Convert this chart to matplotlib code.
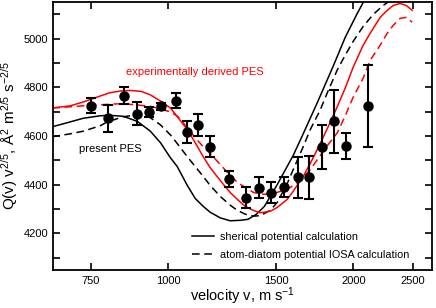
import numpy as np
import matplotlib
matplotlib.use("Agg")
import matplotlib.pyplot as plt
from matplotlib.ticker import FixedLocator, NullLocator, MultipleLocator, FixedFormatter
from matplotlib.lines import Line2D

plt.rcParams['font.family'] = ['Liberation Sans', 'DejaVu Sans']
plt.rcParams['mathtext.fontset'] = 'custom'
plt.rcParams['mathtext.rm'] = 'Liberation Sans'
plt.rcParams['mathtext.it'] = 'Liberation Sans'

# measured points
v_exp = [750, 800, 847, 891, 932, 973, 1030, 1075, 1117, 1168, 1254, 1340,
         1403, 1470, 1545, 1629, 1694, 1778, 1857, 1947, 2109]
q_exp = [4725, 4672, 4766, 4692, 4698, 4722, 4745, 4616, 4646, 4556, 4422, 4347,
         4388, 4367, 4390, 4431, 4431, 4555, 4660, 4558, 4724]
q_err = [30, 54, 34, 46, 20, 15, 30, 46, 46, 43, 33, 44,
         43, 43, 42, 84, 88, 90, 129, 54, 169]

# present PES, spherical potential
v_sph = [649, 694, 729, 776, 803, 846, 892, 936, 972, 1009, 1035, 1075, 1107, 1141,
         1171, 1216, 1262, 1311, 1349, 1392, 1434, 1466, 1505, 1539, 1597, 1658,
         1747, 1855, 1940, 2029, 2083, 2120]
q_sph = [4638, 4658, 4673, 4683, 4685, 4681, 4660, 4620, 4573, 4511, 4475, 4397, 4344, 4311,
         4287, 4264, 4252, 4254, 4258, 4279, 4311, 4352, 4401, 4446, 4520, 4609,
         4736, 4887, 5005, 5103, 5156, 5200]

# present PES, IOSA
v_iosa = [649, 694, 729, 776, 797, 846, 892, 919, 936, 972, 1009, 1039, 1075, 1107, 1141,
          1171, 1216, 1262, 1296, 1335, 1375, 1412, 1466, 1505, 1562, 1597, 1658, 1702,
          1767, 1814, 1883, 1940, 1999, 2075, 2154, 2236, 2296]
q_iosa = [4597, 4609, 4620, 4642, 4658, 4679, 4687, 4683, 4675, 4646, 4605, 4564, 4515, 4475, 4434,
          4397, 4352, 4316, 4295, 4279, 4271, 4273, 4295, 4328, 4405, 4462, 4556, 4626,
          4707, 4777, 4871, 4932, 4989, 5050, 5099, 5136, 5156]

# experimentally derived PES, spherical
v_sph_x = [649, 694, 729, 776, 803, 838, 869, 905, 936, 972, 1009, 1039, 1075, 1107, 1141,
           1171, 1216, 1262, 1296, 1335, 1375, 1412, 1466, 1505, 1562, 1597, 1658, 1702,
           1767, 1814, 1883, 1940, 1999, 2075, 2130, 2211, 2270, 2321, 2383, 2437, 2492]
q_sph_x = [4715, 4724, 4740, 4764, 4777, 4785, 4787, 4783, 4769, 4744, 4715, 4675, 4626, 4573, 4515,
           4470, 4417, 4368, 4340, 4311, 4295, 4285, 4291, 4307, 4340, 4373, 4434, 4487,
           4569, 4630, 4720, 4797, 4883, 4973, 5022, 5087, 5116, 5136, 5144, 5136, 5116]

# experimentally derived PES, IOSA
v_iosa_x = [649, 694, 729, 776, 827, 869, 936, 972, 1009, 1039, 1075, 1107, 1141,
            1171, 1216, 1262, 1296, 1335, 1375, 1412, 1466, 1505, 1562, 1597, 1658, 1702,
            1767, 1814, 1883, 1940, 1999, 2075, 2130, 2211, 2270, 2321, 2383, 2437, 2492]
q_iosa_x = [4715, 4720, 4724, 4728, 4732, 4730, 4722, 4711, 4699, 4679, 4634, 4593, 4556,
            4528, 4483, 4438, 4410, 4389, 4369, 4362, 4360, 4369, 4381, 4397, 4430, 4462,
            4520, 4560, 4613, 4683, 4760, 4838, 4911, 4973, 5022, 5054, 5083, 5087, 5067]

xticks = [750, 1000, 1500, 2000, 2500]
yticks = [4200, 4400, 4600, 4800, 5000]

fig = plt.figure(figsize=(4.36, 3.08), dpi=100)
ax = fig.add_axes([0.121, 0.1234, 0.869, 0.870])

ax.plot(v_sph, q_sph, color='black', lw=1.1)
ax.plot(v_iosa, q_iosa, color='black', lw=1.1, ls=(0, (5, 3)))
ax.plot(v_sph_x, q_sph_x, color='red', lw=1.1)
ax.plot(v_iosa_x, q_iosa_x, color='red', lw=1.1, ls=(0, (5, 3)))
ax.errorbar(v_exp, q_exp, yerr=q_err, fmt='o', color='black', ms=6.5,
            elinewidth=1.5, capsize=3.5, capthick=1.5, zorder=5)

ax.set_xscale('log')
ax.set_xlim(650, 2680)
ax.set_ylim(4050, 5150)
ax.xaxis.set_major_locator(FixedLocator(xticks))
ax.xaxis.set_major_formatter(FixedFormatter([str(t) for t in xticks]))
ax.xaxis.set_minor_locator(NullLocator())
ax.yaxis.set_major_locator(FixedLocator(yticks))
ax.yaxis.set_minor_locator(MultipleLocator(100))
ax.tick_params(which='both', direction='in', top=True, right=True, width=1.2,
               labelsize=8)
ax.tick_params(which='major', length=5)
ax.tick_params(which='minor', length=5)
ax.tick_params(axis='x', which='major', pad=4)
for s in ax.spines.values():
    s.set_linewidth(1.3)

ax.set_xlabel(r'velocity v, m s$^{-1}$', fontsize=10.5, labelpad=0)
ax.set_ylabel(r'Q(v) v$^{2/5}$, Å$^{2}$ m$^{2/5}$ s$^{-2/5}$', fontsize=11, labelpad=2)

ax.text(1000 * 10 ** ((126 - 167.7) / 616), 4862, 'experimentally derived PES',
        color='red', fontsize=8, va='center')
ax.text(1000 * 10 ** ((79 - 167.7) / 616), 4548, 'present PES',
        color='black', fontsize=8, va='center')

handles = [Line2D([], [], color='black', lw=1.1),
           Line2D([], [], color='black', lw=1.1, ls=(0, (5, 3)))]
ax.legend(handles, ['sherical potential calculation',
                    'atom-diatom potential IOSA calculation'],
          loc='lower right', bbox_to_anchor=(0.967, 0.0), frameon=False, fontsize=7.8,
          handlelength=2.0, handletextpad=0.6, labelspacing=0.75)

fig.savefig('out.png', dpi=100)
